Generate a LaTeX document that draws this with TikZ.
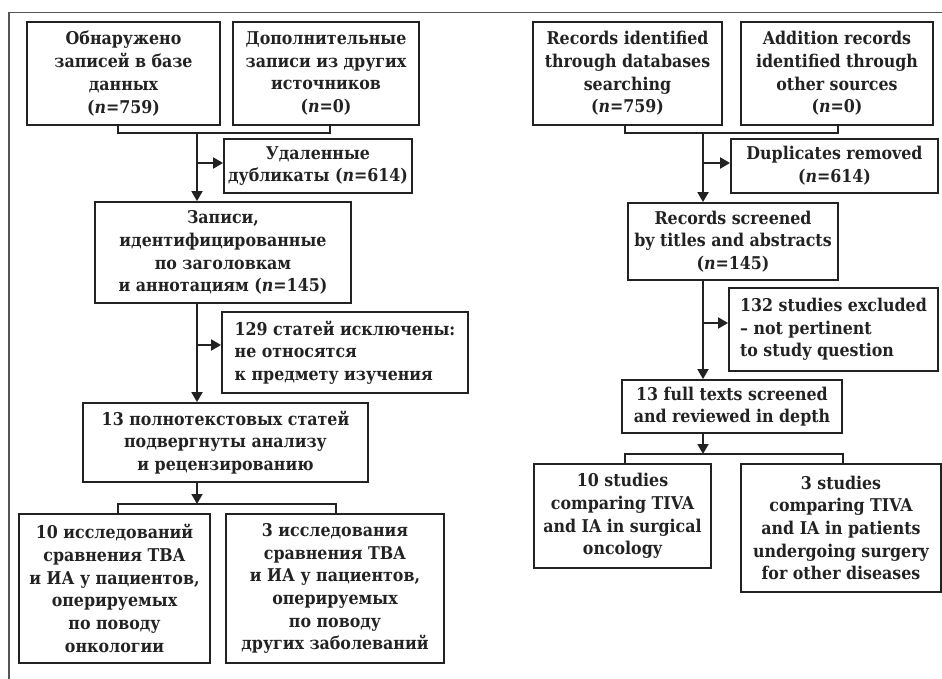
\documentclass[tikz,border=0pt]{standalone}
\usepackage{fontspec}
\setmainfont{DejaVu Serif Condensed}
\usetikzlibrary{arrows.meta}
\definecolor{ink}{HTML}{222222}
\definecolor{frame}{HTML}{555555}
\begin{document}
\begin{tikzpicture}[x=1pt,y=-1pt,
  box/.style={draw=ink, line width=1.8pt, inner sep=0pt, align=center, text=ink,
    font=\bfseries\fontsize{17.6}{22.7}\selectfont},
  lbox/.style={box, align=left},
  conn/.style={draw=ink, line width=1.8pt},
  arr/.style={conn, -{Triangle[length=10pt,width=11pt]}}]
\useasboundingbox (0,0) rectangle (942,679);
\draw[frame, line width=1.4pt] (942,12.5) -- (9,12.5) -- (9,679);

% ---------------- left (Russian) ----------------
\node[box, minimum width=193pt, minimum height=103pt] (L1) at (123.5,73.5)
  {Обнаружено\\записей в базе\\данных\\(\textit{n}=759)};
\node[box, minimum width=186pt, minimum height=103pt] (L2) at (326,73.5)
  {Дополнительные\\записи из других\\источников\\(\textit{n}=0)};
\node[box, minimum width=188pt, minimum height=54pt] (Ldup) at (318,166)
  {Удаленные\\дубликаты (\textit{n}=614)};
\node[box, minimum width=256pt, minimum height=101pt] (Lscr) at (223,252.5)
  {Записи,\\идентифицированные\\по заголовкам\\и аннотациям (\textit{n}=145)};
\node[lbox, minimum width=246pt, minimum height=81pt] (Lexc) at (345,352.5)
  {129 статей исключены:\\не относятся\\к предмету изучения};
\node[box, minimum width=285pt, minimum height=79pt] (Lfull) at (225.5,442.5)
  {13 полнотекстовых статей\\подвергнуты анализу\\и рецензированию};
\node[box, minimum width=191pt, minimum height=149pt] (La) at (114.5,588.5)
  {10 исследований\\сравнения ТВА\\и ИА у пациентов,\\оперируемых\\по поводу\\онкологии};
\node[box, minimum width=218pt, minimum height=149pt] (Lb) at (335,588.5)
  {3 исследования\\сравнения ТВА\\и ИА у пациентов,\\оперируемых\\по поводу\\других заболеваний};

\coordinate (lbl) at (118,133);
\coordinate (lbr) at (330,133);
\coordinate (lt1) at (197,133);
\coordinate (ls1) at (197,163);
\coordinate (lt2) at (197,303);
\coordinate (ls2) at (197,345);
\coordinate (lt3) at (197,504);
\coordinate (lcl) at (118,504);
\coordinate (lcr) at (336,504);

\draw[conn] (lbl |- L1.south) -- (lbl) -- (lbr) -- (lbr |- L2.south);
\draw[arr] (lt1) -- (lt1 |- Lscr.north);
\draw[arr] (ls1) -- (ls1 -| Ldup.west);
\draw[arr] (lt2 |- Lscr.south) -- (lt2 |- Lfull.north);
\draw[arr] (ls2) -- (ls2 -| Lexc.west);
\draw[arr] (lt3 |- Lfull.south) -- (lt3);
\draw[conn] (lcl |- La.north) -- (lcl) -- (lcr) -- (lcr |- Lb.north);

% ---------------- right (English) ----------------
\node[box, minimum width=189pt, minimum height=103pt] (R1) at (627.5,73.5)
  {Records identified\\through databases\\searching\\(\textit{n}=759)};
\node[box, minimum width=192pt, minimum height=103pt] (R2) at (837,73.5)
  {Addition records\\identified through\\other sources\\(\textit{n}=0)};
\node[box, minimum width=207pt, minimum height=54pt] (Rdup) at (834.5,166)
  {Duplicates removed\\(\textit{n}=614)};
\node[box, minimum width=210pt, minimum height=77pt] (Rscr) at (733,241.5)
  {Records screened\\by titles and abstracts\\(\textit{n}=145)};
\node[lbox, minimum width=209pt, minimum height=83pt] (Rexc) at (833.5,329.5)
  {132 studies excluded\\– not pertinent\\to study question};
\node[box, minimum width=220pt, minimum height=53pt] (Rfull) at (732,406.5)
  {13 full texts screened\\and reviewed in depth};
\node[box, minimum width=177pt, minimum height=104pt] (Ra) at (622.5,516)
  {10 studies\\comparing TIVA\\and IA in surgical\\oncology};
\node[box, minimum width=200pt, minimum height=128pt] (Rb) at (841,528)
  {3 studies\\comparing TIVA\\and IA in patients\\undergoing surgery\\for other diseases};

\coordinate (rbl) at (625,133);
\coordinate (rbr) at (838,133);
\coordinate (rt1) at (703,133);
\coordinate (rs1) at (703,163);
\coordinate (rt2) at (703,280);
\coordinate (rs2) at (703,323);
\coordinate (rt3) at (703,454);
\coordinate (rcl) at (625,454);
\coordinate (rcr) at (843,454);

\draw[conn] (rbl |- R1.south) -- (rbl) -- (rbr) -- (rbr |- R2.south);
\draw[arr] (rt1) -- (rt1 |- Rscr.north);
\draw[arr] (rs1) -- (rs1 -| Rdup.west);
\draw[arr] (rt2 |- Rscr.south) -- (rt2 |- Rfull.north);
\draw[arr] (rs2) -- (rs2 -| Rexc.west);
\draw[arr] (rt3 |- Rfull.south) -- (rt3);
\draw[conn] (rcl |- Ra.north) -- (rcl) -- (rcr) -- (rcr |- Rb.north);
\end{tikzpicture}
\end{document}
